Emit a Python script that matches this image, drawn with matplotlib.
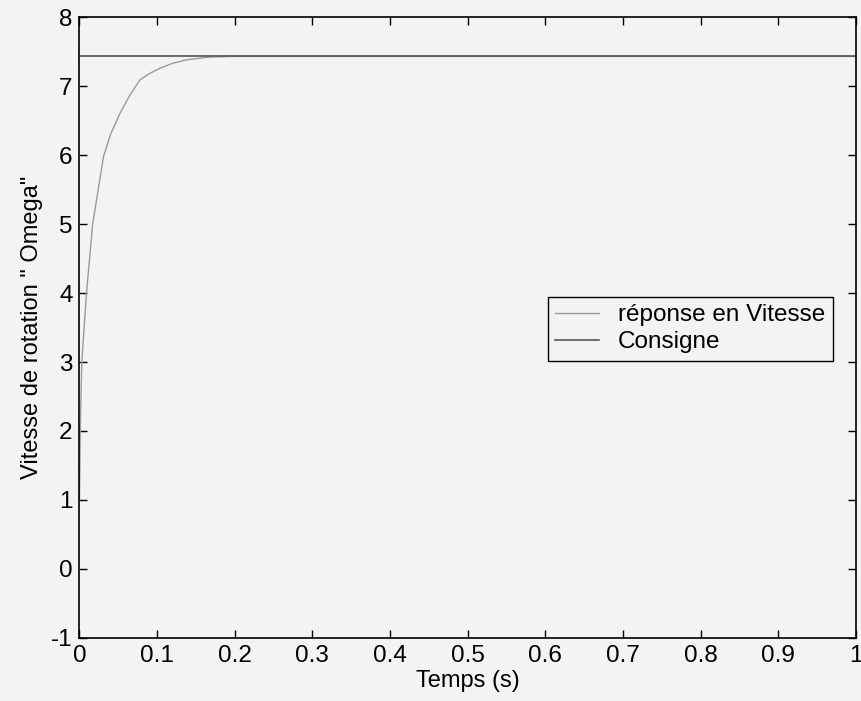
import numpy as np
from matplotlib import pyplot as plt

plt.rcParams['font.family'] = ['Liberation Sans', 'DejaVu Sans']
plt.rcParams['axes.unicode_minus'] = False

# speed response
t_resp = [0, 0.001, 0.003, 0.006, 0.009, 0.013, 0.017, 0.022, 0.031, 0.04,
          0.052, 0.065, 0.078, 0.09, 0.104, 0.12, 0.138, 0.168, 0.2, 0.25, 1.0]
w_resp = [1.0, 2.0, 3.0, 3.5, 4.0, 4.5, 5.0, 5.35, 5.98, 6.3,
          6.6, 6.87, 7.09, 7.18, 7.26, 7.33, 7.38, 7.42, 7.43, 7.43, 7.43]

# set point
t_cons = [0, 1.0]
w_cons = [7.43, 7.43]

bg = '#f3f3f5'
fig = plt.figure(figsize=(8.62, 7.01), dpi=100, facecolor=bg)
ax = fig.add_axes([0.0922, 0.0899, 0.9008, 0.8858], facecolor=bg)

ax.plot(t_resp, w_resp, color='#9a9a9a', lw=1.0, label='réponse en Vitesse')
ax.plot(t_cons, w_cons, color='#555555', lw=1.2, label='Consigne')

ax.set_xlim(0, 1)
ax.set_ylim(-1, 8)
ax.set_xticks(np.arange(0, 1.01, 0.1))
ax.set_xticklabels(['0', '0.1', '0.2', '0.3', '0.4', '0.5', '0.6', '0.7', '0.8', '0.9', '1'])
ax.set_yticks(range(-1, 9))
ax.tick_params(direction='in', top=True, right=True, length=6, width=1,
               labelsize=17.5, colors='black', pad=5)
for s in ax.spines.values():
    s.set_linewidth(1.2)

ax.set_xlabel('Temps (s)', fontsize=17, labelpad=2)
ax.set_ylabel('Vitesse de rotation " Omega"', fontsize=17, labelpad=6)

leg = ax.legend(loc='upper left', bbox_to_anchor=(0.603, 0.549), borderaxespad=0,
                fontsize=17.5, fancybox=False, edgecolor='black', framealpha=1,
                handlelength=1.8, facecolor=bg, borderpad=0.3, labelspacing=0.2)
leg.get_frame().set_linewidth(1.0)

fig.savefig('out.png', dpi=100, facecolor=bg)
